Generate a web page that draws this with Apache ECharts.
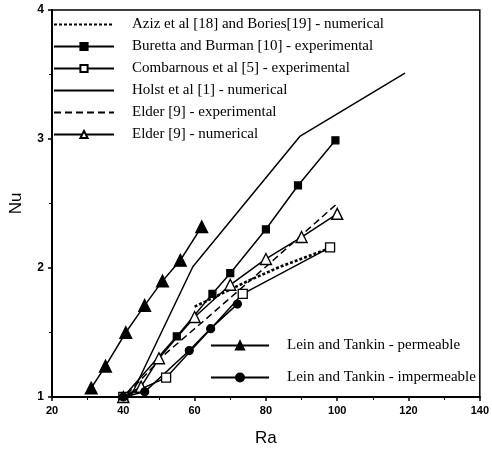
<!DOCTYPE html>
<html>
<head>
<meta charset="utf-8">
<script src="https://cdn.jsdelivr.net/npm/echarts@6/dist/echarts.min.js"></script>
<style>
  html, body { margin: 0; padding: 0; background: #fff; }
  #chart { width: 492px; height: 453px; }
</style>
</head>
<body>
<div id="chart"></div>
<script>
// data, [Ra, Nu]
var aziz = [[60, 1.70], [75, 1.90], [84, 2.01], [97.5, 2.15]];
var buretta = [[40, 1.0], [55, 1.47], [65, 1.80], [70, 1.96], [80, 2.30], [89, 2.64], [99.5, 2.99]];
var combarnous = [[40, 1.0], [52, 1.15], [73.5, 1.80], [98, 2.16]];
var holst = [[42, 1.0], [59.5, 2.01], [89.5, 3.02], [119, 3.51]];
var elderExp = [[41, 1.02], [52, 1.34], [63, 1.60], [80, 2.01], [100, 2.50]];
var elderNum = [[40, 1.0], [45, 1.08], [50, 1.30], [60, 1.62], [70, 1.87], [80, 2.07], [90, 2.24], [100, 2.42]];
var leinPerm = [[31, 1.07], [35, 1.24], [40.7, 1.50], [46, 1.71], [51, 1.90], [56, 2.06], [62, 2.32]];
var leinImp = [[40, 1.0], [46, 1.04], [58.5, 1.36], [64.5, 1.53], [72, 1.72]];

var names = [
  "Aziz et al [18] and Bories[19] - numerical",
  "Buretta and Burman [10] - experimental",
  "Combarnous et al [5] - experimental",
  "Holst et al [1] - numerical",
  "Elder [9] - experimental",
  "Elder [9] - numerical",
  "Lein and Tankin - permeable",
  "Lein and Tankin - impermeable"
];
var noMarker = [0, 3, 4]; // plain lines, no symbol in legend either

var serif = "Liberation Serif";
var sans = "Liberation Sans";

function line(name, data, opts) {
  var s = {
    name: name,
    type: "line",
    data: data,
    symbol: "none",
    color: "#000",
    lineStyle: { color: "#000", width: 1.5 },
    itemStyle: { color: "#000", borderColor: "#000", borderWidth: 1.2 },
    z: 3
  };
  for (var k in opts) s[k] = opts[k];
  return s;
}

var topLegend = names.slice(0, 6).map(function (n, i) {
  return noMarker.indexOf(i) >= 0 ? { name: n, itemStyle: { opacity: 0 } } : { name: n };
});

var chart = echarts.init(document.getElementById("chart"));
chart.setOption({
  animation: false,
  backgroundColor: "#fff",
  grid: {
    left: 50, right: 12, top: 10, bottom: 56,
    show: true, borderColor: "#000", borderWidth: 1.5
  },
  legend: [
    {
      data: topLegend,
      orient: "vertical",
      left: 48, top: 12,
      itemWidth: 60, itemHeight: 9, itemGap: 7,
      textStyle: { fontFamily: serif, fontSize: 15, color: "#000", padding: [0, 0, 0, 13] }
    },
    {
      data: names.slice(6),
      orient: "vertical",
      left: 205, top: 333,
      itemWidth: 58, itemHeight: 10, itemGap: 17,
      textStyle: { fontFamily: serif, fontSize: 15, color: "#000", padding: [0, 0, 0, 13] }
    }
  ],
  xAxis: {
    type: "value",
    min: 20, max: 140, interval: 20,
    name: "Ra", nameLocation: "middle", nameGap: 33,
    nameTextStyle: { fontFamily: sans, fontSize: 17, color: "#000" },
    axisLine: { lineStyle: { color: "#000", width: 2 } },
    axisTick: { length: 4, lineStyle: { color: "#000", width: 1.5 } },
    minorTick: { show: true, splitNumber: 2, length: 3, lineStyle: { color: "#000" } },
    axisLabel: { fontFamily: sans, fontWeight: "bold", fontSize: 11, color: "#000", margin: 8 },
    splitLine: { show: false }
  },
  yAxis: {
    type: "value",
    min: 1, max: 4, interval: 1,
    name: "Nu", nameLocation: "middle", nameGap: 27,
    nameTextStyle: { fontFamily: sans, fontSize: 17, color: "#000" },
    axisLine: { show: true, lineStyle: { color: "#000", width: 2 } },
    axisTick: { show: true, length: 4, lineStyle: { color: "#000", width: 1.5 } },
    minorTick: { show: true, splitNumber: 2, length: 3, lineStyle: { color: "#000" } },
    axisLabel: { fontFamily: sans, fontWeight: "bold", fontSize: 12, color: "#000", margin: 8 },
    splitLine: { show: false }
  },
  series: [
    line(names[0], aziz, { lineStyle: { color: "#000", width: 2.6, type: [3, 2] } }),
    line(names[1], buretta, { symbol: "rect", symbolSize: 7 }),
    line(names[2], combarnous, {
      symbol: "rect", symbolSize: 9,
      itemStyle: { color: "#fff", borderColor: "#000", borderWidth: 1.3 }
    }),
    line(names[3], holst, {}),
    line(names[4], elderExp, { lineStyle: { color: "#000", width: 1.5, type: [7, 4] } }),
    line(names[5], elderNum, {
      symbol: "triangle", symbolSize: 11,
      itemStyle: { color: "#fff", borderColor: "#000", borderWidth: 1.4 }
    }),
    line(names[6], leinPerm, { symbol: "triangle", symbolSize: 12 }),
    line(names[7], leinImp, { symbol: "circle", symbolSize: 8 })
  ]
});
</script>
</body>
</html>
